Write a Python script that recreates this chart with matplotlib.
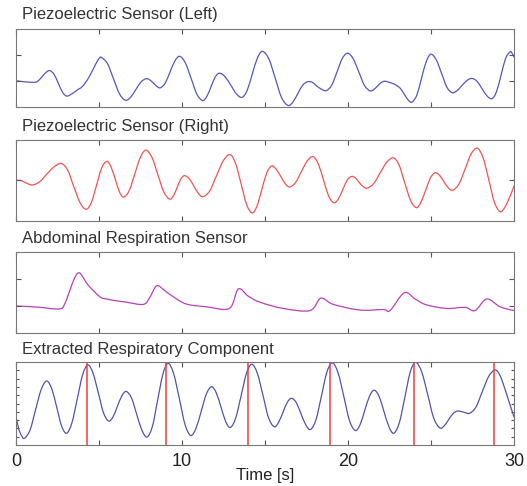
import numpy as np
import matplotlib
matplotlib.use('Agg')
import matplotlib.pyplot as plt
from matplotlib.path import Path
from matplotlib.patches import PathPatch

plt.rcParams['font.family'] = ['Liberation Sans', 'DejaVu Sans']

# Piezoelectric sensor (left)
t_left = [0, 0.5, 1.14, 1.36, 1.59, 1.81, 2.03, 2.29, 2.55, 2.81, 3.07, 3.4, 3.7, 4.0, 4.4, 4.8, 5.0,
          5.14, 5.51, 5.87, 6.24, 6.60, 6.91, 7.23, 7.54, 7.85, 8.06, 8.28, 8.49, 8.70, 8.99, 9.28,
          9.57, 9.86, 10.20, 10.55, 10.89, 11.23, 11.49, 11.75, 12.0, 12.26, 12.60, 12.94, 13.27,
          13.61, 13.92, 14.23, 14.54, 14.85, 15.24, 15.62, 16.0, 16.39, 16.68, 16.98, 17.27, 17.56,
          17.85, 18.13, 18.42, 18.70, 19.02, 19.34, 19.65, 19.97, 20.31, 20.65, 20.99, 21.33, 21.55,
          21.78, 22.0, 22.23, 22.58, 22.93, 23.2, 23.5, 23.7, 23.86, 24.15, 24.43, 24.72, 25.0, 25.32,
          25.64, 25.95, 26.27, 26.57, 26.87, 27.17, 27.47, 27.77, 28.07, 28.37, 28.67, 28.94, 29.22,
          29.49, 29.76, 29.88, 30.0]
v_left = [1.01, 0.97, 0.95, 1.02, 1.18, 1.33, 1.40, 1.26, 0.91, 0.56, 0.42, 0.52, 0.66, 0.79, 1.15,
          1.65, 1.86, 1.91, 1.67, 1.09, 0.50, 0.26, 0.38, 0.68, 0.97, 1.09, 1.04, 0.92, 0.79, 0.74,
          0.92, 1.35, 1.77, 1.95, 1.70, 1.10, 0.50, 0.25, 0.40, 0.78, 1.15, 1.30, 1.16, 0.84, 0.51,
          0.37, 0.63, 1.26, 1.88, 2.14, 1.84, 1.10, 0.36, 0.06, 0.19, 0.52, 0.84, 0.97, 0.95, 0.80,
          0.68, 0.63, 0.84, 1.35, 1.86, 2.07, 1.86, 1.35, 0.83, 0.62, 0.67, 0.81, 0.94, 0.99, 0.93,
          0.83, 0.68, 0.38, 0.22, 0.19, 0.46, 1.11, 1.76, 2.03, 1.81, 1.29, 0.77, 0.55, 0.63, 0.83,
          1.02, 1.10, 0.99, 0.71, 0.43, 0.32, 0.58, 1.22, 1.86, 2.12, 2.07, 1.92]

# Piezoelectric sensor (right)
t_right = [0, 0.3, 0.6, 0.99, 1.43, 1.86, 2.30, 2.73, 3.11, 3.48, 3.86, 4.23, 4.54, 4.85, 5.15, 5.46,
           5.72, 5.98, 6.23, 6.49, 6.83, 7.16, 7.50, 7.83, 8.19, 8.54, 8.90, 9.25, 9.48, 9.71, 9.93,
           10.16, 10.44, 10.72, 10.99, 11.27, 11.68, 12.08, 12.49, 12.89, 13.22, 13.56, 13.89, 14.22,
           14.52, 14.81, 15.11, 15.40, 15.67, 15.95, 16.22, 16.49, 16.84, 17.19, 17.54, 17.89, 18.20,
           18.52, 18.83, 19.14, 19.41, 19.68, 19.95, 20.22, 20.45, 20.68, 20.91, 21.14, 21.54, 21.94,
           22.33, 22.73, 23.08, 23.42, 23.77, 24.11, 24.39, 24.68, 24.96, 25.24, 25.51, 25.78, 26.04,
           26.31, 26.68, 27.05, 27.41, 27.78, 28.13, 28.48, 28.82, 29.17, 29.45, 29.72, 30.0]
v_right = [0.0, 0.0, -0.06, -0.11, -0.03, 0.16, 0.34, 0.42, 0.26, -0.15, -0.55, -0.71, -0.54, -0.12,
           0.30, 0.47, 0.34, 0.03, -0.28, -0.41, -0.24, 0.17, 0.58, 0.75, 0.57, 0.15, -0.28, -0.46,
           -0.38, -0.17, 0.04, 0.12, 0.04, -0.14, -0.32, -0.40, -0.25, 0.12, 0.49, 0.64, 0.43, -0.08,
           -0.59, -0.80, -0.63, -0.22, 0.19, 0.36, 0.28, 0.10, -0.08, -0.16, -0.05, 0.22, 0.48, 0.59,
           0.42, 0.02, -0.38, -0.55, -0.46, -0.23, 0.01, 0.10, 0.06, -0.05, -0.15, -0.19, -0.08, 0.19,
           0.45, 0.56, 0.38, -0.06, -0.49, -0.67, -0.54, -0.24, 0.06, 0.19, 0.13, -0.03, -0.18, -0.24,
           -0.09, 0.28, 0.65, 0.80, 0.57, 0.02, -0.54, -0.77, -0.66, -0.43, -0.14]

# Abdominal respiration sensor
t_abd = [0, 1.3, 2.61, 2.95, 3.36, 3.6, 3.78, 3.95, 4.34, 5.06, 5.46, 6.07, 6.57, 7.67, 8.07, 8.48,
         8.98, 9.48, 10.28, 11.49, 12.85, 13.39, 13.98, 14.70, 16.10, 17.71, 18.36, 19.11, 20.72,
         22.13, 22.53, 23.39, 24.04, 24.74, 25.95, 27.05, 27.65, 28.36, 29.16, 30.0]
v_abd = [1.0, 0.96, 0.89, 1.10, 1.78, 2.12, 2.23, 2.15, 1.78, 1.34, 1.26, 1.19, 1.15, 1.06, 1.33, 1.75,
         1.56, 1.34, 1.07, 0.97, 0.91, 1.63, 1.37, 1.14, 0.91, 0.83, 1.29, 1.06, 0.85, 0.87, 0.83, 1.49,
         1.26, 1.04, 0.91, 0.95, 0.83, 1.26, 0.97, 0.83]

# Extracted respiratory component
t_resp = [0, 0.17, 0.34, 0.51, 0.85, 1.18, 1.52, 1.85, 2.15, 2.45, 2.74, 3.04, 3.36, 3.69, 4.01, 4.33,
          4.64, 4.96, 5.27, 5.58, 5.85, 6.11, 6.38, 6.64, 6.96, 7.27, 7.59, 7.90, 8.22, 8.53, 8.85,
          9.16, 9.50, 9.85, 10.19, 10.53, 10.84, 11.16, 11.47, 11.78, 12.06, 12.35, 12.63, 12.91,
          13.23, 13.56, 13.88, 14.20, 14.54, 14.88, 15.21, 15.55, 15.81, 16.08, 16.34, 16.60, 16.89,
          17.17, 17.46, 17.74, 18.07, 18.40, 18.72, 19.05, 19.40, 19.75, 20.09, 20.44, 20.73, 21.01,
          21.30, 21.58, 21.88, 22.17, 22.47, 22.76, 23.09, 23.42, 23.74, 24.07, 24.44, 24.81, 25.17,
          25.54, 25.81, 26.07, 26.34, 26.60, 26.96, 27.32, 27.71, 28.09, 28.48, 28.86, 29.15, 29.43,
          29.72, 30.0]
v_resp = [3.41, 1.9, 1.1, 0.81, 1.82, 4.26, 6.70, 7.71, 6.79, 4.56, 2.33, 1.41, 2.61, 5.53, 8.44, 9.64,
          8.65, 6.27, 3.88, 2.89, 3.41, 4.67, 5.93, 6.45, 5.65, 3.71, 1.76, 0.96, 2.26, 5.40, 8.54,
          9.84, 8.57, 5.49, 2.41, 1.14, 2.00, 4.08, 6.16, 7.02, 6.30, 4.57, 2.83, 2.11, 3.22, 5.92,
          8.62, 9.73, 8.63, 5.97, 3.30, 2.20, 2.70, 3.92, 5.13, 5.63, 5.08, 3.75, 2.42, 1.87, 3.04,
          5.89, 8.73, 9.90, 8.71, 5.83, 2.94, 1.75, 2.46, 4.18, 5.89, 6.60, 5.84, 4.01, 2.18, 1.42,
          2.67, 5.70, 8.72, 9.97, 8.81, 6.01, 3.21, 2.05, 2.35, 3.08, 3.80, 4.10, 3.96, 3.82, 4.58,
          6.43, 8.28, 9.04, 8.4, 6.9, 5.1, 3.37]

# detected breath peaks
peak_times = [4.3, 9.05, 14.0, 18.9, 23.95, 28.8]

titles = ['Piezoelectric Sensor (Left)', 'Piezoelectric Sensor (Right)',
          'Abdominal Respiration Sensor', 'Extracted Respiratory Component']


def smooth_line(ax, t, v, **kw):
    # draw a curve through the read points as Bezier segments (Catmull-Rom tangents)
    pts = np.column_stack([t, v])
    n = len(pts)
    verts = [pts[0]]
    codes = [Path.MOVETO]
    for i in range(n - 1):
        p0 = pts[max(i - 1, 0)]
        p1 = pts[i]
        p2 = pts[i + 1]
        p3 = pts[min(i + 2, n - 1)]
        verts += [p1 + (p2 - p0) / 6, p2 - (p3 - p1) / 6, p2]
        codes += [Path.CURVE4] * 3
    ax.add_patch(PathPatch(Path(verts, codes), fill=False, capstyle='round', **kw))


W, H = 527, 486
fig = plt.figure(figsize=(W / 100, H / 100), dpi=100)


def box(top, bottom):
    return [16 / W, 1 - bottom / H, (514 - 16) / W, (bottom - top) / H]


ax1 = fig.add_axes(box(29, 107))
ax2 = fig.add_axes(box(140, 221))
ax3 = fig.add_axes(box(252, 333))
ax4 = fig.add_axes(box(362, 445))

smooth_line(ax1, t_left, v_left, edgecolor='#5656be', lw=0.9)
smooth_line(ax2, t_right, v_right, edgecolor='#f45252', lw=0.9)
smooth_line(ax3, t_abd, v_abd, edgecolor='#b840b8', lw=0.9)
smooth_line(ax4, t_resp, v_resp, edgecolor='#5252b4', lw=0.9)
for p in peak_times:
    ax4.axvline(p, color='#f23c3c', lw=1.1)

ax1.set_ylim(0, 3)
ax1.set_yticks([1, 2])
ax2.set_ylim(-1, 1)
ax2.set_yticks([0])
ax3.set_ylim(0, 3)
ax3.set_yticks([1, 2])
ax4.set_ylim(0, 10)
ax4.set_yticks(range(1, 10))

for ax in [ax1, ax2, ax3, ax4]:
    ax.set_xlim(0, 30)
    ax.set_xticks([0, 5, 10, 15, 20, 25, 30])
    ax.tick_params(direction='in', length=3.5, width=0.8, color='#555555',
                   top=True, right=True, labelleft=False, labelbottom=False)
    for s in ax.spines.values():
        s.set_color('#777777')
        s.set_linewidth(0.8)

ax4.tick_params(axis='y', length=2.5)
ax4.tick_params(axis='x', labelbottom=True, labelsize=13, pad=6, labelcolor='#222222')
ax4.set_xticklabels(['0', '', '10', '', '20', '', '30'])
ax4.set_xlabel('Time [s]', fontsize=12, color='#222222', labelpad=-2)

title_y = [14.5, 126.5, 238, 349.5]
for name, y in zip(titles, title_y):
    fig.text(22 / W, 1 - y / H, name, fontsize=12, color='#333333', va='center', ha='left')

fig.savefig('out.png', dpi=100)
